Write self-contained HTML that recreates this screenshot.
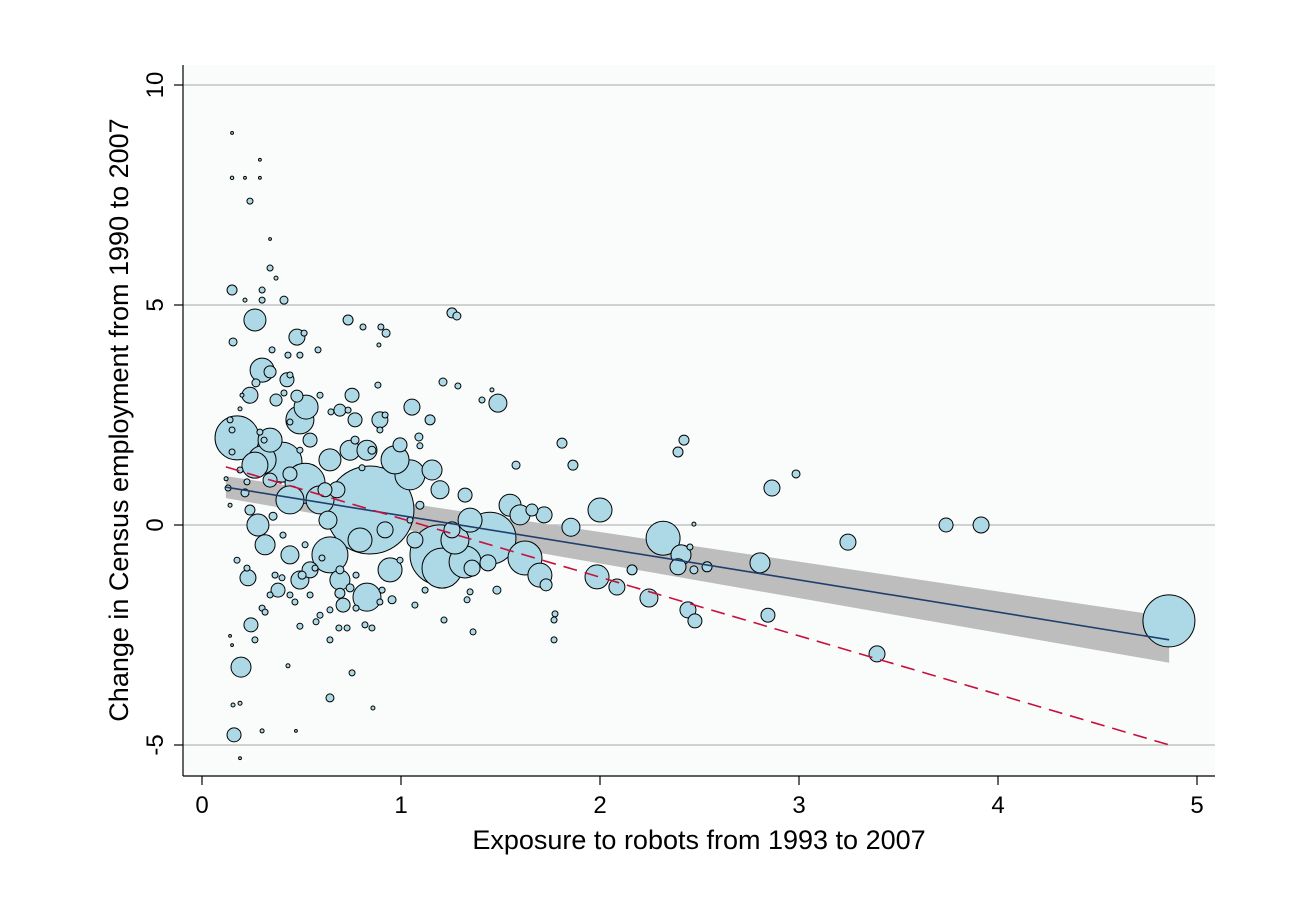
<!DOCTYPE html>
<html><head><meta charset="utf-8"><style>
html,body{margin:0;padding:0;background:#fff;}
svg{display:block;font-family:"Liberation Sans","DejaVu Sans",sans-serif;}
</style></head><body>
<svg id="chart" width="1310" height="904" viewBox="0 0 1310 904" xmlns="http://www.w3.org/2000/svg">
<rect x="0" y="0" width="1310" height="904" fill="#fff"/>
<rect x="183" y="65" width="1032" height="711" fill="#fafcfc"/>
<g id="grid"></g>
<g id="band"></g>
<g id="pts"></g>
<g id="lines"></g>
<g id="axes"></g>
<text x="699" y="849" text-anchor="middle" font-size="27" fill="#000">Exposure to robots from 1993 to 2007</text>
<text transform="translate(128,420) rotate(-90)" text-anchor="middle" font-size="27" fill="#000">Change in Census employment from 1990 to 2007</text>
</svg>
<script>
const xTicks=[0,1,2,3,4,5];
const yTicks=[-5,0,5,10];
const pts=[
[0.844,0.34,1936],[0.176,1.98,484],[0.402,1.43,400],[0.302,1.48,196],[0.518,0.95,400],[1.196,-0.68,900],[1.206,-0.98,400],[1.447,-0.30,676],[1.322,-0.84,256],[1.623,-0.75,289],[1.698,-1.14,144],[2.0,0.34,144],[1.985,-1.18,144],[2.317,-0.30,289],[4.859,-2.18,676],[0.970,1.48,196],[1.045,1.14,225],[0.266,1.36,169],[0.492,2.39,196],[0.643,-0.68,324],[0.593,0.57,196],[0.442,0.57,196],[0.281,0,121],[0.523,2.68,144],[0.266,4.66,121],[0.302,3.52,144],[0.829,-1.64,196],[0.945,-1.02,144],[0.794,-0.34,144],[0.693,-1.25,100],[0.342,1.93,144],[0.643,1.48,121],[0.744,1.70,100],[0.829,1.70,100],[1.271,-0.34,196],[1.347,0.11,144],[1.598,0.23,100],[1.548,0.45,121],[1.487,2.77,81],[1.055,2.68,64],[1.196,0.80,81],[1.719,0.23,64],[1.854,-0.05,81],[2.407,-0.68,100],[2.804,-0.86,100],[2.246,-1.66,81],[2.085,-1.41,64],[2.392,-0.95,64],[2.442,-1.93,64],[2.477,-2.18,49],[2.844,-2.05,49],[3.392,-2.93,64],[3.739,0,49],[3.915,0,64],[3.246,-0.39,64],[2.864,0.84,64],[0.196,-3.23,100],[0.161,-4.77,49],[0.246,-2.27,49],[0.241,2.95,64],[0.477,4.27,64],[0.427,3.30,49],[0.231,-1.20,64],[0.317,-0.45,100],[0.442,-0.68,81],[0.492,-1.25,81],[0.382,-1.48,49],[0.633,0.11,81],[0.709,-1.82,49],[0.543,-1.02,64],[0.678,0.80,64],[0.769,2.39,49],[0.894,2.39,64],[0.995,1.82,49],[1.156,1.25,100],[1.357,-0.98,64],[1.437,-0.86,64],[1.070,-0.34,64],[0.920,-0.11,64],[1.322,0.68,49],[1.256,-0.11,64],[0.754,2.95,49],[0.693,2.61,36],[0.342,3.48,36],[0.477,2.93,36],[0.618,0.80,49],[0.372,2.84,36],[0.342,1.02,49],[0.543,1.93,49],[0.442,1.16,49],[1.729,-1.36,36],[1.658,0.34,36],
[0.151,8.91,2],[0.151,7.89,3],[0.216,7.89,2],[0.291,7.89,2],[0.241,7.36,9],[0.291,8.30,2],[0.342,6.50,2],[0.151,5.34,25],[0.216,5.11,4],[0.302,5.34,9],[0.156,4.16,16],[0.342,5.84,9],[0.372,5.61,4],[0.412,5.11,16],[0.302,5.11,9],[0.412,3.0,9],[0.432,3.86,9],[0.513,4.36,9],[0.583,3.98,9],[0.734,4.66,25],[0.809,4.5,9],[0.899,4.5,9],[0.925,4.36,16],[0.889,4.09,4],[0.884,3.18,9],[1.256,4.82,25],[1.281,4.75,16],[1.211,3.25,16],[1.286,3.16,9],[1.457,3.07,4],[1.407,2.84,9],[1.146,2.39,25],[1.578,1.36,16],[1.864,1.36,25],[1.809,1.86,25],[2.422,1.93,25],[2.392,1.66,25],[2.985,1.16,16],[2.472,0.02,4],[2.452,-0.5,9],[2.472,-1.02,16],[2.538,-0.95,25],[2.161,-1.02,25],[1.774,-2.02,9],[1.769,-2.16,9],[1.769,-2.61,9],[1.347,-1.52,9],[1.482,-1.48,16],[1.332,-1.70,9],[1.216,-2.16,9],[1.362,-2.43,9],[1.070,-1.82,9],[0.854,-2.34,9],[0.754,-3.36,9],[0.643,-3.93,16],[0.859,-4.16,4],[0.472,-4.68,2],[0.432,-3.2,4],[0.302,-4.68,4],[0.191,-4.05,4],[0.156,-4.09,4],[0.191,-5.3,2],[0.141,-2.52,2],[0.151,-2.73,2],[0.266,-2.61,9],[0.302,-1.89,9],[0.467,-1.75,9],[0.492,-2.30,9],[0.573,-2.20,9],[0.688,-2.34,9],[0.894,-1.75,9],[0.905,-1.48,9],[0.176,-0.80,9],[0.226,-0.98,9],[0.141,0.45,4],[0.131,0.84,9],[0.121,1.05,4],[0.191,2.64,4],[0.151,2.16,9],[0.271,3.23,16],[0.352,3.98,9],[0.201,2.95,4],[0.291,2.11,9],[0.442,2.34,9],[0.492,1.70,9],[0.593,2.95,9],[0.648,2.57,9],[0.769,1.93,16],[0.804,1.30,9],[0.894,2.16,9],[0.854,1.70,16],[1.090,2.0,16],[1.095,1.80,9],[0.734,2.61,9],[0.920,2.5,9],[0.442,3.41,9],[0.492,3.86,9],[0.312,1.93,9],[0.141,2.39,9],[0.151,1.66,9],[0.191,1.25,9],[0.518,-0.45,9],[0.603,-0.75,9],[0.693,-1.02,16],[0.774,-1.14,9],[1.045,0.11,9],[1.095,0.45,16],[1.121,-1.48,9],[0.995,-0.80,9],[0.955,-1.70,16],[0.774,-1.89,9],[0.317,-1.98,9],[0.367,-1.14,9],[0.407,-0.23,9],[0.357,0.20,16],[0.442,-1.59,9],[0.543,-1.59,9],[0.503,-1.14,16],[0.568,-0.98,9],[0.643,-2.61,9],[0.729,-2.34,9],[0.819,-2.27,9],[0.643,-1.93,9],[0.593,-2.05,9],[0.693,-1.55,25],[0.744,-1.43,16],[0.241,0.34,25],[0.216,0.73,16],[0.226,0.98,9],[0.342,-1.59,9],[0.402,-1.20,9]
];
const fitRange=[0.12,4.86];
const fitLine=[0.948,-0.732];     // intercept, slope (weighted fit)
const dashLine=[1.48,-1.333];     // intercept, slope (unweighted fit)
const ciHalf=[0.25,0.52];         // CI half-width at range start/end

const NS='http://www.w3.org/2000/svg';
const X=v=>202+v*199;
const Y=v=>525-v*44;
function mk(tag,attrs,parent){const e=document.createElementNS(NS,tag);for(const k in attrs)e.setAttribute(k,attrs[k]);parent.appendChild(e);return e;}
const grid=document.getElementById('grid'),axes=document.getElementById('axes'),band=document.getElementById('band'),P=document.getElementById('pts'),L=document.getElementById('lines');
yTicks.forEach(t=>{
  const g=mk('line',{x1:183,x2:1215,y1:Y(t),y2:Y(t),stroke:'#b8b8b8','stroke-width':1.2},grid);
  
  
  const tk=mk('line',{x1:174,x2:183,y1:Y(t),y2:Y(t),stroke:'#000','stroke-width':1.2},axes);
  
  
  const tx=mk('text',{transform:`translate(163,${Y(t)}) rotate(-90)`,'text-anchor':'middle','font-size':24,fill:'#000'},axes);
  tx.textContent=t;
  
  
});
xTicks.forEach(t=>{
  const tk=mk('line',{x1:X(t),x2:X(t),y1:776,y2:785,stroke:'#000','stroke-width':1.2},axes);
  
  
  const tx=mk('text',{x:X(t),y:813,'text-anchor':'middle','font-size':24,fill:'#000'},axes);
  tx.textContent=t;
  
  
});
const ya=mk('line',{x1:183,x2:183,y1:65,y2:776,stroke:'#000','stroke-width':1.2},axes);


const xa=mk('line',{x1:183,x2:1215,y1:776,y2:776,stroke:'#000','stroke-width':1.2},axes);



const f=(c,x)=>c[0]+c[1]*x;
const a=fitRange[0],b=fitRange[1];
const bp=mk('polygon',{points:[[X(a),Y(f(fitLine,a)+ciHalf[0])],[X(b),Y(f(fitLine,b)+ciHalf[1])],[X(b),Y(f(fitLine,b)-ciHalf[1])],[X(a),Y(f(fitLine,a)-ciHalf[0])]].map(p=>p.join(',')).join(' '),fill:'#bdbdbd'},band);



pts.slice().sort((p,q)=>q[2]-p[2]).forEach(p=>{
  const c=mk('circle',{cx:X(p[0]),cy:Y(p[1]),r:Math.max(1,Math.sqrt(p[2])),fill:'#add8e6',stroke:'#000','stroke-width':1},P);
  
  
});
const fl=mk('line',{x1:X(a),y1:Y(f(fitLine,a)),x2:X(b),y2:Y(f(fitLine,b)),stroke:'#1f3f6e','stroke-width':1.6},L);


const dl=mk('line',{x1:X(a),y1:Y(f(dashLine,a)),x2:X(b),y2:Y(f(dashLine,b)),stroke:'#c8103c','stroke-width':1.6,'stroke-dasharray':'14,8'},L);


</script>
</body></html>
